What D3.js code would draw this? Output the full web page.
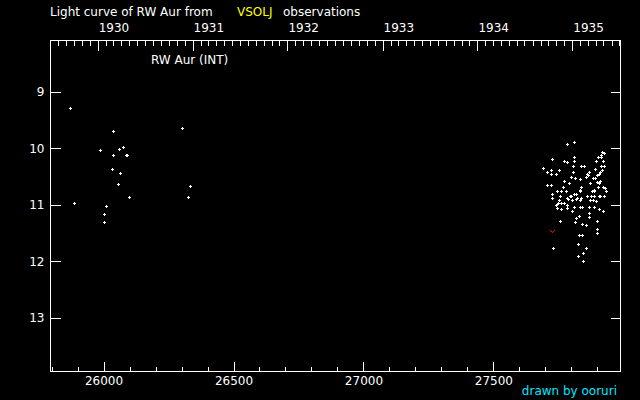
<!DOCTYPE html>
<html><head><meta charset="utf-8">
<script src="https://cdn.jsdelivr.net/npm/d3@7"></script>
<style>html,body{margin:0;padding:0;background:#000;}svg{display:block;}</style>
</head><body>
<script>
// ---- data (JD - 2400000, visual magnitude) ----
const obsJD = [
 25872,26037,26303,25987,26076,26061,26037,26087,26091,26034,26064,26057,26334,26099,26326,25887,26010,26003,26003,
 27813,27786,27729,27775,27786,27813,27813,27694,27725,27756,27725,27744,27809,27809,27840,27852,27802,27817,27836,
 27775,27794,27725,27771,27748,27763,27782,27729,27759,27756,27786,27802,27752,27763,27775,
 27921,27917,27905,27925,27898,27917,27894,27929,27921,27913,27909,27902,27894,27886,27871,27863,27867,27859,
 27913,27902,27909,27905,27875,27925,27932,27936,27840,27836,27890,27821,27879,27863,27909,27929,27840,27836,27821,
 27813,27836,27882,27890,27798,27890,27913,27790,27805,27825,27875,27886,27786,27744,27813,27836,27844,27871,27890,
 27748,27763,27786,27805,27909,27871,27832,27871,27821,27759,27902,27817,27844,27859,27902,27902,27832,27844,27829,
 27859,27733,27848,27829,27848,
 27709,27709,27729,27748,27929,27917,27898,27925
];
const obsMag = [
 9.30,9.70,9.65,10.04,9.98,10.02,10.13,10.13,10.13,10.37,10.44,10.64,10.67,10.87,10.87,10.975,11.03,11.17,11.31,
 9.89,9.94,10.19,10.24,10.26,10.17,10.24,10.35,10.39,10.40,10.46,10.47,10.33,10.42,10.33,10.33,10.51,10.53,10.55,
 10.58,10.63,10.65,10.69,10.76,10.76,10.77,10.88,10.86,10.92,10.88,10.86,10.97,10.97,10.97,
 10.07,10.16,10.17,10.24,10.24,10.33,10.37,10.33,10.39,10.42,10.46,10.49,10.53,10.53,10.42,10.46,10.49,10.51,
 10.58,10.60,10.63,10.69,10.62,10.69,10.72,10.77,10.70,10.74,10.74,10.81,10.85,10.86,10.85,10.85,10.88,10.92,10.90,
 10.81,10.77,10.77,10.77,10.85,10.86,10.85,10.90,10.92,10.88,10.92,10.93,11.01,11.02,11.04,11.04,11.04,11.04,11.04,
 11.06,11.08,11.06,11.11,11.09,11.15,11.20,11.22,11.25,11.29,11.29,11.32,11.34,11.36,11.43,11.50,11.54,11.55,11.70,
 11.78,11.77,11.86,11.91,12.00,
 10.42,10.65,10.81,10.99,10.10,10.12,10.95,11.12
];
// fainter-than observations
const limJD = [27729];
const limMag = [11.48];
// axis ticks
const magTicks = [9, 10, 11, 12, 13];
const jdMajor = [26000, 26500, 27000, 27500];
const jdMinor = d3.range(25800, 28000, 100);
const yearLabels = [1930, 1931, 1932, 1933, 1934, 1935];
const starName = "RW Aur (INT)";

// ---- layout ----
const W = 640, H = 400;
const L = 50, R = 620, T = 40, B = 371;
const FONT = "DejaVu Sans";

const svg = d3.select("body").append("svg").attr("width", W).attr("height", H)
  .style("background", "#000");
svg.append("rect").attr("width", W).attr("height", H).attr("fill", "#000");

const x = d3.scaleLinear().domain([25794, 27987]).range([L, R]);
const y = d3.scaleLinear().domain([8.085, 13.94]).range([T, B]);

const toJD = d => Date.UTC(d.getUTCFullYear(), d.getUTCMonth(), 1) / 86400000 + 2440587.5 - 2400000;
const months = d3.utcMonths(new Date(Date.UTC(1929, 6, 1)), new Date(Date.UTC(1936, 0, 1)))
  .map(toJD).filter(j => j >= 25794 && j <= 27987);
const yearJD = yearLabels.map(yr => Date.UTC(yr, 0, 1) / 86400000 + 2440587.5 - 2400000);

function style(g) {
  g.select(".domain").remove();
  g.selectAll("line").attr("stroke", "#fff").attr("shape-rendering", "crispEdges");
  g.selectAll("text").attr("fill", "#fff").attr("font-family", FONT).attr("font-size", 12);
  g.attr("font-family", FONT);
}

// bottom axis
svg.append("g").attr("transform", `translate(0,${B + 0.5})`)
  .call(d3.axisBottom(x).tickValues(jdMinor).tickSize(-5).tickFormat(""))
  .call(style);
svg.append("g").attr("transform", `translate(0,${B + 0.5})`)
  .call(d3.axisBottom(x).tickValues(jdMajor).tickSize(-10).tickPadding(5).tickFormat(d3.format("d")))
  .call(style);

// top axis (calendar)
svg.append("g").attr("transform", `translate(0,${T + 0.5})`)
  .call(d3.axisTop(x).tickValues(months).tickSize(-5).tickFormat(""))
  .call(style);
svg.append("g").attr("transform", `translate(0,${T + 0.5})`)
  .call(d3.axisTop(x).tickValues(yearJD).tickSize(-10).tickFormat(""))
  .call(style);
svg.append("g").selectAll("text").data(yearLabels).join("text")
  .attr("x", (d, i) => x(yearJD[i]) + 1).attr("y", 32)
  .attr("fill", "#fff").attr("font-family", FONT).attr("font-size", 12)
  .text(d => d);

// left / right axes
svg.append("g").attr("transform", `translate(${L + 0.5},0)`)
  .call(d3.axisLeft(y).tickValues(magTicks).tickSize(-10).tickPadding(6).tickFormat(d3.format("d")))
  .call(style);
svg.append("g").attr("transform", `translate(${R + 0.5},0)`)
  .call(d3.axisRight(y).tickValues(magTicks).tickSize(-10).tickFormat(""))
  .call(style);

// frame
svg.append("rect").attr("x", L + 0.5).attr("y", T + 0.5).attr("width", R - L).attr("height", B - T)
  .attr("fill", "none").attr("stroke", "#fff").attr("shape-rendering", "crispEdges");

// title
const title = svg.append("text").attr("x", 50).attr("y", 16)
  .attr("font-family", FONT).attr("font-size", 12).attr("fill", "#fff");
title.append("tspan").text("Light curve of RW Aur from");
title.append("tspan").attr("x", 237).attr("fill", "#ffff00").text("VSOLJ");
title.append("tspan").attr("x", 283).text("observations");

svg.append("text").attr("x", 151).attr("y", 64)
  .attr("font-family", FONT).attr("font-size", 12).attr("fill", "#fff").text(starName);

svg.append("text").attr("x", 617).attr("y", 395).attr("text-anchor", "end")
  .attr("font-family", FONT).attr("font-size", 12).attr("fill", "#00e8ff").text("drawn by ooruri");

// observations: white plus marks
const pts = obsJD.map((j, i) => [j, obsMag[i]]);
svg.append("g").selectAll("path").data(pts).join("path")
  .attr("d", d => {
    const cx = Math.floor(x(d[0])) + 0.5, cy = Math.floor(y(d[1])) + 0.5;
    return `M${cx - 1.5},${cy}H${cx + 1.5}M${cx},${cy - 1.5}V${cy + 1.5}`;
  })
  .attr("stroke", "#fff").attr("stroke-width", 1).attr("fill", "none")
  .attr("shape-rendering", "crispEdges");

// fainter-than marks: red V
const lim = limJD.map((j, i) => [j, limMag[i]]);
svg.append("g").selectAll("path").data(lim).join("path")
  .attr("d", d => {
    const cx = Math.floor(x(d[0])) + 0.5, cy = Math.floor(y(d[1])) + 0.5;
    return `M${cx - 2},${cy - 1}L${cx},${cy + 1}L${cx + 2},${cy - 1}`;
  })
  .attr("stroke", "#ff0000").attr("stroke-width", 1.3).attr("fill", "none")
  .attr("shape-rendering", "crispEdges");
</script>
</body></html>
